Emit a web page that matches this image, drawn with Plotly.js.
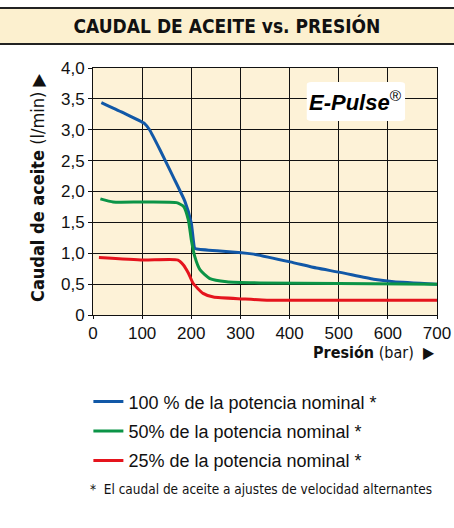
<!DOCTYPE html>
<html><head><meta charset="utf-8">
<script src="https://cdn.plot.ly/plotly-3.0.1.min.js"></script>
<style>body{margin:0;background:#fff}#chart{width:454px;height:528px}</style>
</head><body><div id="chart"></div>
<script>
const seriesNames = ["100 % de la potencia nominal *", "50% de la potencia nominal *", "25% de la potencia nominal *"];
const seriesColors = ["#1158a7", "#0b9447", "#e5141d"];

const blueX = [17, 60, 105, 115, 136, 163, 187, 200, 207, 211, 252, 302, 323, 401, 455, 503, 571, 612, 700];
const blueY = [3.44, 3.28, 3.10, 3.00, 2.68, 2.24, 1.84, 1.49, 1.08, 1.07, 1.04, 1.01, 0.99, 0.86, 0.76, 0.69, 0.58, 0.54, 0.50];

const greenX = [15, 41, 100, 170, 184, 194, 200, 207, 218, 238, 272, 340, 500, 700];
const greenY = [1.88, 1.83, 1.83, 1.82, 1.76, 1.54, 1.22, 0.95, 0.73, 0.59, 0.54, 0.52, 0.51, 0.50];

const redX = [12, 102, 173, 184, 194, 204, 224, 245, 306, 354, 500, 700];
const redY = [0.93, 0.89, 0.89, 0.81, 0.68, 0.51, 0.35, 0.29, 0.26, 0.24, 0.24, 0.24];

const xTicks = [0, 100, 200, 300, 400, 500, 600, 700];
const yTicks = [0, 0.5, 1, 1.5, 2, 2.5, 3, 3.5, 4];
const yTickText = ["0", "0,5", "1,0", "1,5", "2,0", "2,5", "3,0", "3,5", "4,0"];

const FONT = "'Liberation Sans', Arial, sans-serif";
const CFONT = "'DejaVu Sans Condensed', 'Liberation Sans Narrow', 'Liberation Sans', sans-serif";

const xs = [blueX, greenX, redX];
const ys = [blueY, greenY, redY];
const traces = xs.map((x, i) => ({
  x: x, y: ys[i], type: 'scatter', mode: 'lines', name: seriesNames[i], legendgroup: 'g' + i,
  line: {color: seriesColors[i], width: 3, shape: 'spline', smoothing: 0.5}
}));

const layout = {
  width: 454, height: 528,
  margin: {l: 93, r: 17, t: 68, b: 213},
  paper_bgcolor: '#ffffff',
  plot_bgcolor: '#fdf2d7',
  font: {family: FONT, size: 17, color: '#111'},
  showlegend: true,
  legend: {x: -0.0134, y: -0.277, xanchor: 'left', yanchor: 'top', bgcolor: 'rgba(0,0,0,0)',
           font: {family: FONT, size: 18, color: '#111'}, tracegroupgap: 3, itemwidth: 30},
  title: {text: '<b>CAUDAL DE ACEITE vs. PRESIÓN</b>', x: 0.5, xref: 'container', xanchor: 'center',
          y: 1 - 26/528, yref: 'container', yanchor: 'middle', font: {family: CFONT, size: 19, color: '#111'}},
  xaxis: {range: [0, 700], tickvals: xTicks, ticktext: xTicks.map(String), showgrid: true, gridcolor: '#111', gridwidth: 1,
          showline: true, linecolor: '#111', linewidth: 1, mirror: true, ticks: 'outside', ticklen: 3, tickcolor: '#111',
          zeroline: false, tickfont: {family: FONT, size: 17, color: '#111'}, fixedrange: true},
  yaxis: {range: [0, 4], tickvals: yTicks, ticktext: yTickText, showgrid: true, gridcolor: '#111', gridwidth: 1,
          showline: true, linecolor: '#111', linewidth: 1, mirror: true, ticks: 'outside', ticklen: 4, tickcolor: '#111',
          zeroline: false, tickfont: {family: FONT, size: 17, color: '#111'}, fixedrange: true},
  shapes: [
    {type: 'rect', xref: 'paper', yref: 'paper', x0: -0.28, x1: 1.06, y0: (315-44)/247, y1: (315-8)/247,
     fillcolor: '#fcf0cf', line: {color: '#222', width: 2}, layer: 'below'},
    {type: 'path', xref: 'x', yref: 'y',
     path: 'M 445,3.773 L 625,3.773 Q 635,3.773 635,3.73 L 635,3.185 Q 635,3.142 625,3.142 L 445,3.142 Q 435,3.142 435,3.185 L 435,3.73 Q 435,3.773 445,3.773 Z',
     fillcolor: '#ffffff', line: {width: 0}, layer: 'above'}
  ],
  annotations: [
    {text: '<b><i>E-Pulse</i></b><sup>®</sup>', x: 535, y: 3.46, xref: 'x', yref: 'y', showarrow: false,
     font: {family: FONT, size: 22, color: '#000'}},
    {text: '<b>Caudal de aceite</b> (l/min) ▶', textangle: -90, xref: 'paper', yref: 'paper',
     x: (37-93)/344, y: (315-188)/247, xanchor: 'center', yanchor: 'middle', showarrow: false,
     font: {family: CFONT, size: 18, color: '#111'}},
    {text: '<b>Presión</b> (bar)  ▶', xref: 'paper', yref: 'paper', x: 1.0, y: (315-352)/247,
     xanchor: 'right', yanchor: 'middle', showarrow: false, font: {family: CFONT, size: 16, color: '#111'}},
    {text: '*  El caudal de aceite a ajustes de velocidad alternantes', xref: 'paper', yref: 'paper',
     x: (88-93)/344, y: (315-489)/247, xanchor: 'left', yanchor: 'middle', showarrow: false,
     font: {family: CFONT, size: 13.5, color: '#111'}}
  ]
};

Plotly.newPlot('chart', traces, layout, {staticPlot: true, displayModeBar: false});
</script></body></html>
